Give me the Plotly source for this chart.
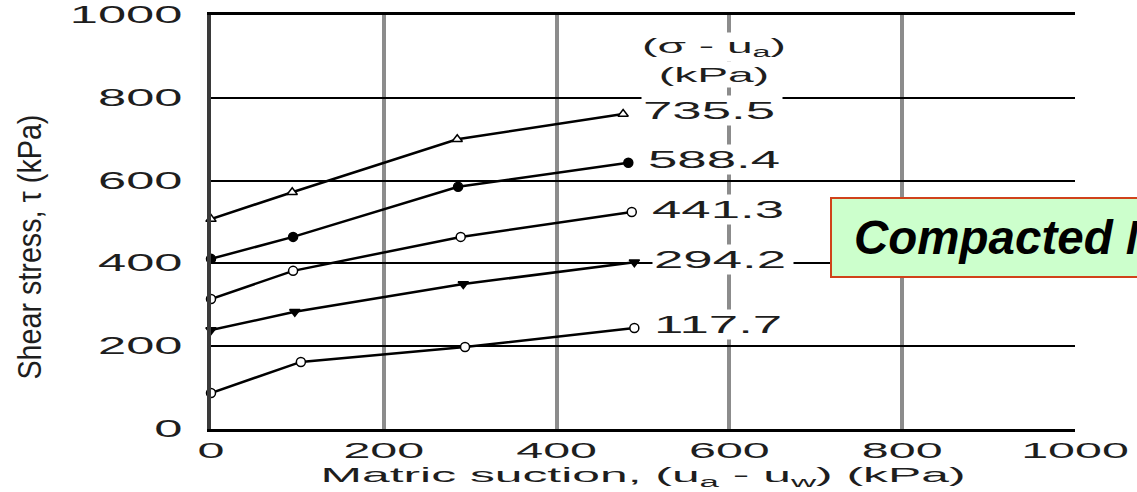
import plotly.graph_objects as go

# Net normal stress levels, (sigma - ua) in kPa
stress_labels = ["735.5", "588.4", "441.3", "294.2", "117.7"]

# Matric suction (kPa) and shear stress (kPa) for each net normal stress
suction_735 = [0, 94, 285, 477]
shear_735 = [507, 572, 700, 761]

suction_588 = [0, 95, 286, 483]
shear_588 = [411, 464, 585, 643]

suction_441 = [0, 95, 289, 487]
shear_441 = [314, 382, 464, 524]

suction_294 = [0, 97, 292, 490]
shear_294 = [239, 283, 350, 403]

suction_117 = [0, 104, 294, 490]
shear_117 = [87, 162, 198, 244]

x_ticks = [0, 200, 400, 600, 800, 1000]
y_ticks = [0, 200, 400, 600, 800, 1000]

series = [
    (suction_735, shear_735, "triangle-up", "white"),
    (suction_588, shear_588, "circle", "black"),
    (suction_441, shear_441, "circle", "white"),
    (suction_294, shear_294, "triangle-down", "black"),
    (suction_117, shear_117, "circle", "white"),
]

FONT = "Liberation Sans, Arial, sans-serif"
INK = "#1e1e1e"

fig = go.Figure()
for (xs, ys, sym, fill), name in zip(series, stress_labels):
    fig.add_trace(go.Scatter(
        x=xs, y=ys, mode="lines+markers", name=name,
        line=dict(color="black", width=2.5),
        marker=dict(symbol=sym, size=9, color=fill,
                    line=dict(color="black", width=1.5)),
        cliponaxis=False, showlegend=False,
    ))
    # value label at the end of each curve
    fig.add_annotation(
        x=xs[-1], y=ys[-1], text=name, showarrow=False,
        xanchor="left", yanchor="middle", xshift=18, yshift=3,
        width=138, align="left",
        font=dict(family=FONT, size=24, color=INK),
        bgcolor="white", borderpad=1,
    )

# two-line header above the curve labels
fig.add_annotation(
    x=582, y=922, text="(σ - u<sub>a</sub>)", showarrow=False,
    xanchor="center", yanchor="middle", width=160, align="center",
    font=dict(family=FONT, size=21, color=INK), bgcolor="white",
)
fig.add_annotation(
    x=582, y=856, text="(kPa)", showarrow=False,
    xanchor="center", yanchor="middle", width=126, align="center",
    font=dict(family=FONT, size=21, color=INK), bgcolor="white",
)

# y-axis title
fig.add_annotation(
    xref="paper", yref="paper", x=-0.21, y=0.44,
    text="Shear stress, τ (kPa)", textangle=-90, showarrow=False,
    xanchor="center", yanchor="middle",
    font=dict(family=FONT, size=33, color=INK),
)

# highlighted material box
fig.add_shape(
    type="rect", xref="paper", yref="paper",
    x0=0.7176, x1=1.16, y0=0.367, y1=0.558,
    fillcolor="#ccffcc", line=dict(color="#d0421a", width=2), layer="above",
)
fig.add_annotation(
    xref="paper", yref="paper", x=0.742, y=0.462,
    text="<b><i>Compacted Madrid clay</i></b>", showarrow=False,
    xanchor="left", yanchor="middle", width=600, align="left",
    font=dict(family=FONT, size=47.5, color="black"),
)

fig.update_layout(
    width=1137, height=492,
    margin=dict(l=211, r=62, t=15, b=63, autoexpand=False),
    paper_bgcolor="white", plot_bgcolor="white",
    xaxis=dict(
        range=[0, 1000], tickvals=x_ticks, ticktext=[str(v) for v in x_ticks],
        showgrid=True, gridcolor="#8c8c8c", gridwidth=4,
        showline=True, linecolor="black", linewidth=2.5, mirror=True,
        zeroline=False, ticks="", ticklabelstandoff=0, automargin=False,
        tickfont=dict(family=FONT, size=22, color=INK),
        title=dict(text="Matric suction, (u<sub>a</sub> - u<sub>w</sub>) (kPa)",
                   font=dict(family=FONT, size=21, color=INK), standoff=0),
    ),
    yaxis=dict(
        range=[0, 1000], tickvals=y_ticks, ticktext=[str(v) for v in y_ticks],
        showgrid=True, gridcolor="black", gridwidth=2,
        showline=True, linecolor="#3a3a3a", linewidth=4,
        zeroline=False, ticks="", ticklabelstandoff=20, automargin=False,
        tickfont=dict(family=FONT, size=23, color=INK),
    ),
)

# The lettering of this figure is set wide: stretch the glyphs of the
# axis numbers, axis title and curve labels horizontally, and squeeze the
# rotated y title along its length.
widen_text = """
var gd = document.getElementById('{plot_id}');
var K = 2.2;
function fit(el, len) {
  el.setAttribute('textLength', len.toFixed(1));
  el.setAttribute('lengthAdjust', 'spacingAndGlyphs');
}
gd.querySelectorAll('.xtick text, .ytick text').forEach(function (el) {
  fit(el, el.getComputedTextLength() * K);
});
gd.querySelectorAll('text.xtitle').forEach(function (el) {
  fit(el, 645);
});
gd.querySelectorAll('text.annotation-text').forEach(function (el) {
  var t = el.textContent;
  if (t.indexOf('Compacted') >= 0) { return; }
  if (t.indexOf('Shear') >= 0) { fit(el, 265); return; }
  fit(el, el.getComputedTextLength() * K);
});
"""

fig.write_html("out.html", post_script=widen_text)
